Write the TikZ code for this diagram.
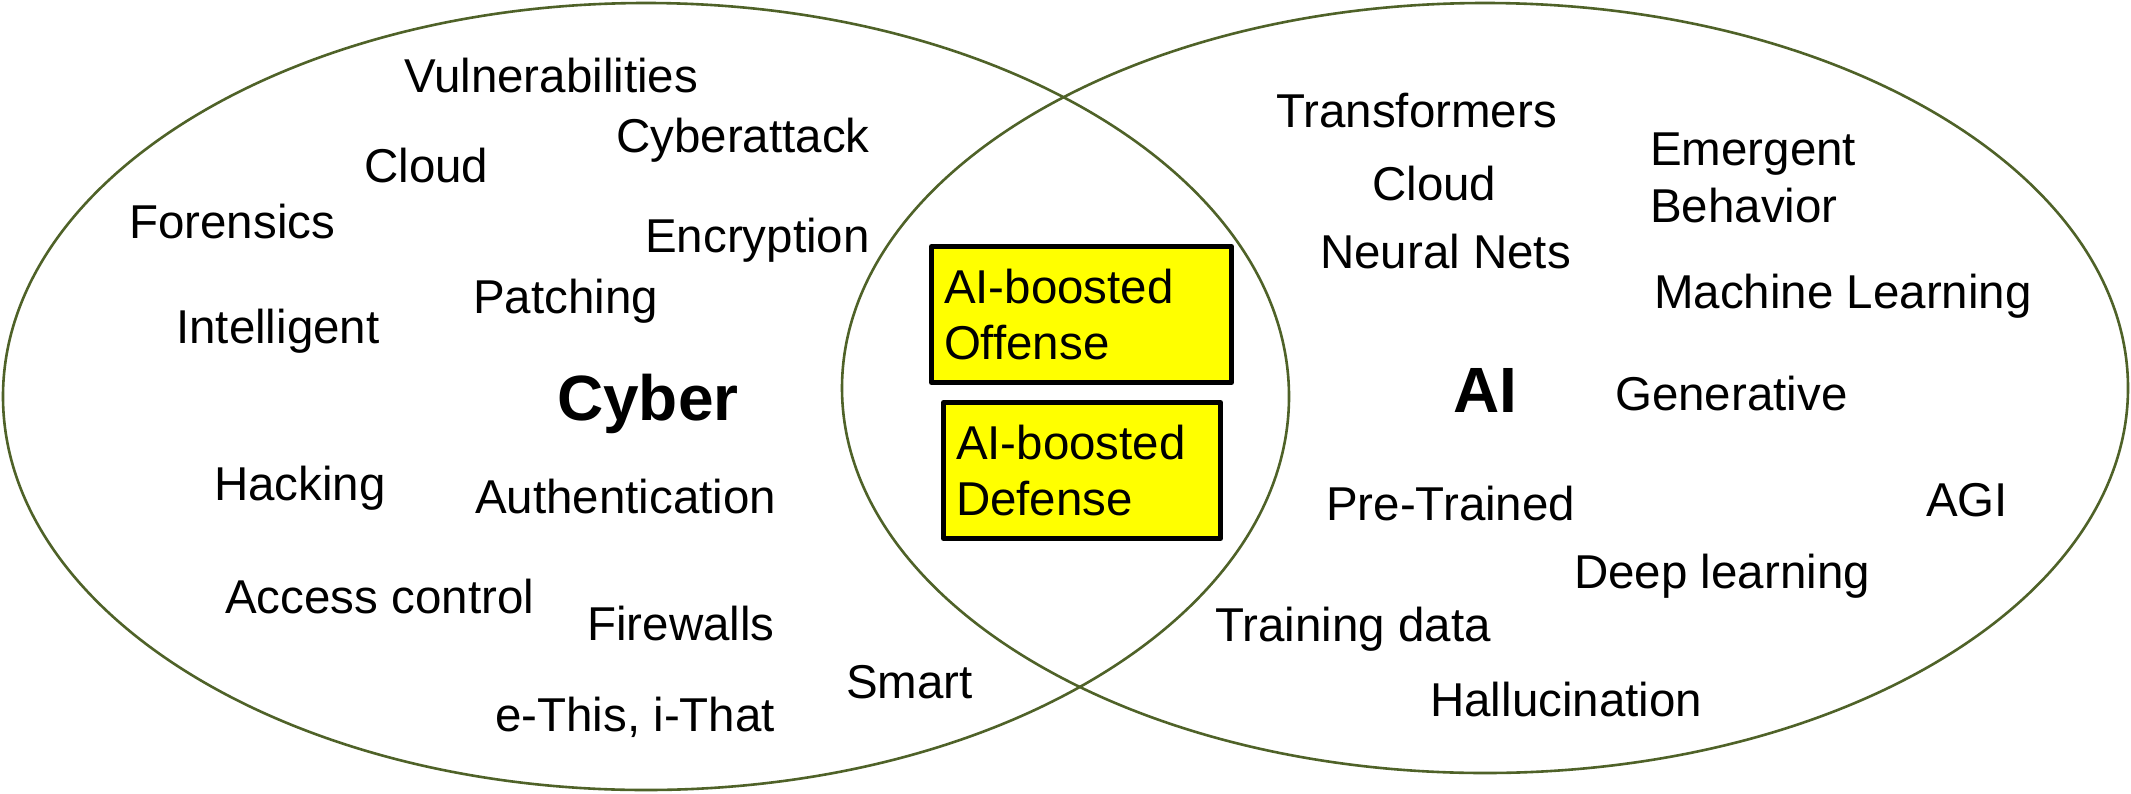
\documentclass[tikz,border=0pt]{standalone}
\usepackage{fontspec}
\setmainfont{Liberation Sans}
\definecolor{vennline}{RGB}{79,98,40}
\definecolor{boostyellow}{RGB}{255,255,0}
\begin{document}
\begin{tikzpicture}[x=1pt,y=-1pt,
  venn/.style={draw=vennline, line width=2.6pt},
  lbl/.style={anchor=base west, inner sep=0pt, font=\fontsize{47.5}{57}\selectfont},
  biglbl/.style={anchor=base west, inner sep=0pt, font=\fontsize{64}{72}\selectfont\bfseries},
  boostbox/.style={draw=black, fill=boostyellow, line width=5pt, line join=round,
    inner xsep=12.5pt, inner ysep=0pt, minimum height=136pt, align=left,
    font=\fontsize{47.5}{56}\selectfont}]
\useasboundingbox (0,0) rectangle (2131,793);
\fill[white] (0,0) rectangle (2131,793);
% circles
\draw[venn] (646,396.5) ellipse [x radius=643, y radius=393.5];
\draw[venn] (1485,388) ellipse [x radius=643, y radius=385];
% Cyber side
\node[lbl] (vuln) at (404,92) {Vulnerabilities};
\node[lbl] (cyberattack) at (616,152) {Cyberattack};
\node[lbl] (cloudL) at (364,182) {Cloud};
\node[lbl] (forensics) at (129,238) {Forensics};
\node[lbl] (encryption) at (645,252) {Encryption};
\node[lbl] (patching) at (473,313) {Patching};
\node[lbl] (intelligent) at (176,343) {Intelligent};
\node[biglbl] (cyber) at (557,420) {Cyber};
\node[lbl] (hacking) at (214,500) {Hacking};
\node[lbl] (authentication) at (475,513) {Authentication};
\node[lbl] (access) at (225,613) {Access control};
\node[lbl] (firewalls) at (587,640) {Firewalls};
\node[lbl] (ethis) at (495,731) {e-This, i-That};
\node[lbl] (smart) at (846,698) {Smart};
% intersection
\node[boostbox, text width=275pt] (offense) at (1081.5,314.5) {AI-boosted\\Offense};
\node[boostbox, text width=252pt] (defense) at (1082,470.5) {AI-boosted\\Defense};
% AI side
\node[lbl] (transformers) at (1276,127) {Transformers};
\node[lbl] (cloudR) at (1372,200) {Cloud};
\node[lbl] (neural) at (1320,268) {Neural Nets};
\node[lbl, align=left] (emergent) at (1650,222) {Emergent\\Behavior};
\node[lbl] (ml) at (1654,308) {Machine Learning};
\node[biglbl] (ai) at (1453,412) {AI};
\node[lbl] (generative) at (1615,410) {Generative};
\node[lbl] (pretrained) at (1326,520) {Pre-Trained};
\node[lbl] (agi) at (1926,516) {AGI};
\node[lbl] (deep) at (1574,588) {Deep learning};
\node[lbl] (training) at (1215,641) {Training data};
\node[lbl] (halluc) at (1430,716) {Hallucination};
\end{tikzpicture}
\end{document}
